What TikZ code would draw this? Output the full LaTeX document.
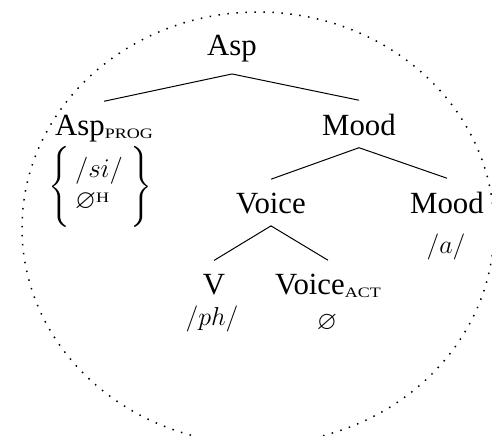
\RequirePackage{fix-cm}
\documentclass[tikz,border=0pt]{standalone}
\usepackage{amssymb}
\usepackage{graphicx}
\usepackage{fontspec}
\setmainfont{Liberation Serif}
\newcommand{\fakesc}[1]{\scalebox{1.25}[1]{\fontsize{7.2}{9}\selectfont #1}}
\newcommand{\subsc}[1]{\raisebox{-1.5pt}{\fakesc{#1}}}
\begin{document}
\begin{tikzpicture}[x=0.5pt,y=-0.5pt,
  lab/.style={anchor=base,inner xsep=0pt,inner ysep=0pt,font=\fontsize{15.4}{18}\selectfont},
  phon/.style={anchor=base,inner sep=0pt,font=\fontsize{13}{15}\selectfont},
  branch/.style={line width=0.5pt},
  halo/.style={dash pattern=on 0.75pt off 3.75pt,line width=0.75pt}]
\useasboundingbox (0,0) rectangle (492,435);
\clip (0,0) rectangle (492,435);
\draw[halo] (258,228) ellipse [x radius=236, y radius=216];

\node[lab] (asp) at (232,55) {Asp};
\node[lab] (aspprog) at (104,135) {Asp\subsc{PROG}};
\node[lab] (mood1) at (359,135) {Mood};
\node[lab] (voice) at (271,213) {Voice};
\node[lab] (mood2) at (447,213) {Mood};
\node[lab] (v) at (214,294) {V};
\node[lab] (voiceact) at (328,294) {Voice\subsc{ACT}};

\node[inner sep=0pt,font=\fontsize{13.5}{15}\selectfont] (progexp) at (100.5,187)
  {$\left\{\rule[-16.6pt]{0pt}{40pt}\begin{array}{@{\,}l@{\;}}/si/\\[0.5pt] \varnothing\mbox{\raisebox{3pt}{\fakesc{H}}}\end{array}\right\}$};
\node[phon] (ma) at (446,253) {$/a/$};
\node[phon] (ph) at (212,325) {$/ph/$};
\node[phon] (nul) at (327,329) {$\varnothing$};

\draw[branch] ([yshift=-6pt]asp.south) -- ([yshift=6.5pt]aspprog.north);
\draw[branch] ([yshift=-6pt]asp.south) -- ([yshift=6.5pt]mood1.north);
\draw[branch] ([yshift=-6pt]mood1.south) -- ([yshift=6.5pt]voice.north);
\draw[branch] ([yshift=-6pt]mood1.south) -- ([yshift=6.5pt]mood2.north);
\draw[branch] ([yshift=-6pt]voice.south) -- ([yshift=6.5pt]v.north);
\draw[branch] ([yshift=-6pt]voice.south) -- ([yshift=6.5pt]voiceact.north);
\end{tikzpicture}
\end{document}
